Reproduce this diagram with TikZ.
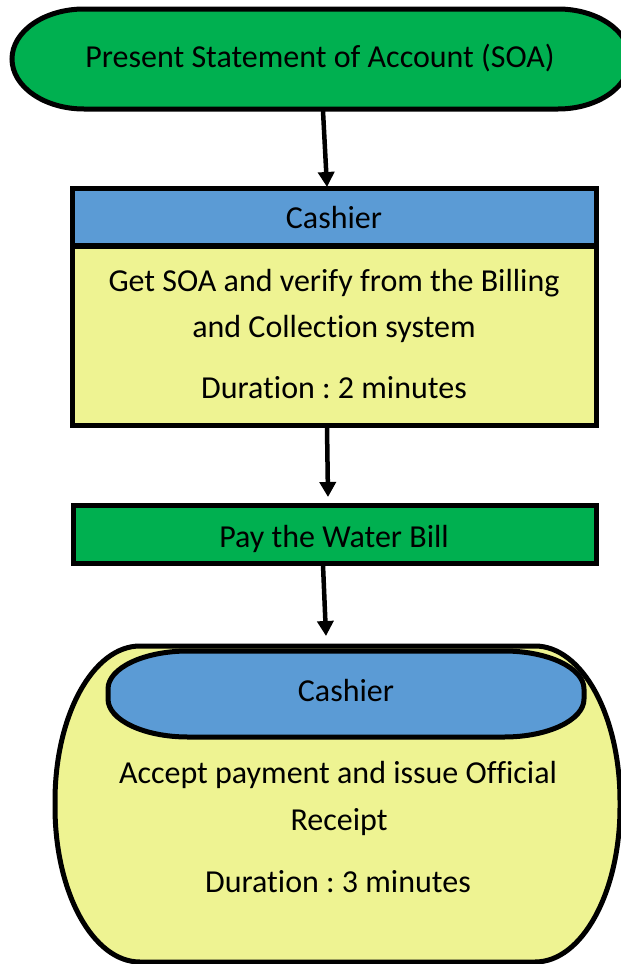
\documentclass[tikz,border=0pt]{standalone}
\usepackage{fontspec}
\setmainfont{Carlito}[Ligatures=NoCommon]
\usetikzlibrary{arrows.meta}
\definecolor{bgreen}{RGB}{0,176,80}
\definecolor{bblue}{RGB}{91,155,213}
\definecolor{byellow}{RGB}{238,243,146}
\frenchspacing
\begin{document}
\begin{tikzpicture}[x=1pt,y=1pt,
  outline/.style={draw=black,line width=5pt},
  txt/.style={font=\fontsize{32}{38}\selectfont,anchor=base,inner sep=0pt},
  flow/.style={line width=4.5pt,-{Triangle[width=16pt,length=15pt]}}]
\clip (0,0) rectangle (621,-964);
% top stadium
\draw[outline,fill=bgreen] (84,-9) -- (558,-9) arc[start angle=90,end angle=-90,x radius=72,y radius=50] -- (84,-109) arc[start angle=270,end angle=90,x radius=72,y radius=50] -- cycle;
\node[txt] (present) at (320,-67) {Present Statement of Account (SOA)};
% box 1
\fill[bblue] (72,-188) rectangle (596,-246);
\fill[byellow] (72,-246) rectangle (596,-425);
\draw[line width=5pt] (72,-188) rectangle (596,-425);
\draw[line width=6pt] (72,-246) -- (596,-246);
\node[txt] (cashier1) at (334,-228) {Cashier};
\node[txt] (get1) at (334,-291) {Get SOA and verify from the Billing};
\node[txt] (get2) at (334,-337) {and Collection system};
\node[txt] (dur1) at (334,-398) {Duration : 2 minutes};
% box 2
\draw[outline,fill=bgreen] (73,-505) rectangle (596,-563);
\node[txt] (pay) at (334,-547) {Pay the Water Bill};
% bottom shape
\draw[outline,fill=byellow] (140,-646) -- (535,-646) arc[start angle=90,end angle=0,x radius=85,y radius=155] -- (620,-807) arc[start angle=0,end angle=-90,x radius=85,y radius=155] -- (140,-962) arc[start angle=270,end angle=180,x radius=85,y radius=155] -- (55,-801) arc[start angle=180,end angle=90,x radius=85,y radius=155] -- cycle;
\draw[outline,fill=bblue] (188,-651) -- (504,-651) arc[start angle=90,end angle=0,x radius=80,y radius=38] -- (584,-699) arc[start angle=0,end angle=-90,x radius=80,y radius=38] -- (188,-737) arc[start angle=270,end angle=180,x radius=80,y radius=38] -- (108,-689) arc[start angle=180,end angle=90,x radius=80,y radius=38] -- cycle;
\node[txt] (cashier2) at (346,-701) {Cashier};
\node[txt] (acc1) at (338,-783) {Accept payment and issue Official};
\node[txt] (acc2) at (339,-830) {Receipt};
\node[txt] (dur2) at (338,-892) {Duration : 3 minutes};
% connectors
\coordinate (a1s) at (323,-111);
\coordinate (a1e) at (327,-187);
\coordinate (a2s) at (327,-427);
\coordinate (a2e) at (328,-497);
\coordinate (a3s) at (323,-565);
\coordinate (a3e) at (326,-636);
\draw[flow] (a1s) -- (a1e);
\draw[flow] (a2s) -- (a2e);
\draw[flow] (a3s) -- (a3e);
\end{tikzpicture}
\end{document}
